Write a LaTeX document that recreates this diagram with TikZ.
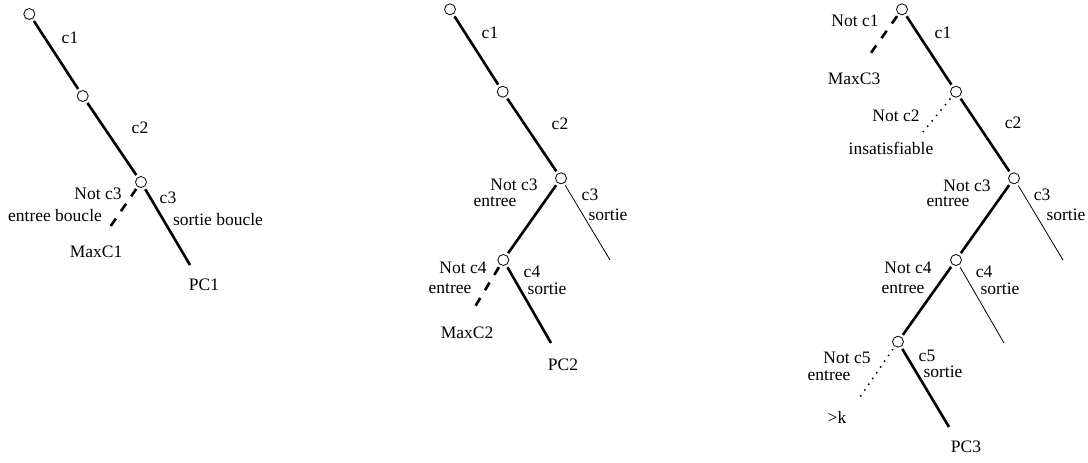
\documentclass[tikz,border=0pt]{standalone}
\usepackage{fontspec}
\setmainfont{Liberation Serif}
\begin{document}
\begin{tikzpicture}[x=1pt,y=-1pt,
  vtx/.style={circle,draw,line width=0.8pt,minimum size=11pt,inner sep=0pt,fill=white},
  lbl/.style={inner sep=0pt,font=\fontsize{17.5}{20}\selectfont},
  thickedge/.style={line width=2.6pt,shorten <=2.5pt,shorten >=2.5pt},
  thinedge/.style={line width=0.8pt,shorten <=2.5pt},
  dashedge/.style={line width=2.6pt,dash pattern=on 9pt off 9pt,shorten <=2.5pt},
  dotedge/.style={line width=1.5pt,dash pattern=on 1.5pt off 5.5pt,shorten <=3pt}]
\useasboundingbox (0,0) rectangle (1088,463);
% ---------- tree 1 ----------
\node[vtx] (a1) at (29.3,14) {};
\node[vtx] (a2) at (82.7,96) {};
\node[vtx] (a3) at (141,182) {};
\coordinate (a3r) at (190,265);
\coordinate (a3l) at (108,230);
\draw[thickedge] (a1) -- (a2);
\draw[thickedge] (a2) -- (a3);
\draw[thickedge,shorten >=0pt] (a3) -- (a3r);
\draw[dashedge] (a3) -- (a3l);
\node[lbl] (ta1) at (70,38) {c1};
\node[lbl] (ta2) at (140,128) {c2};
\node[lbl] (ta3) at (98,194) {Not c3};
\node[lbl] (ta4) at (168,198) {c3};
\node[lbl] (ta5) at (55,216) {entree boucle};
\node[lbl] (ta6) at (218,220) {sortie boucle};
\node[lbl] (ta7) at (96,252) {MaxC1};
\node[lbl] (ta8) at (204,285) {PC1};
% ---------- tree 2 ----------
\node[vtx] (b1) at (450,9.3) {};
\node[vtx] (b2) at (502.7,91.7) {};
\node[vtx] (b3) at (561,178.3) {};
\node[vtx] (b4) at (503.3,260) {};
\coordinate (b3r) at (610,260);
\coordinate (b4l) at (473,310);
\coordinate (b4r) at (551,343);
\draw[thickedge] (b1) -- (b2);
\draw[thickedge] (b2) -- (b3);
\draw[thickedge] (b3) -- (b4);
\draw[thinedge] (b3) -- (b3r);
\draw[dashedge] (b4) -- (b4l);
\draw[thickedge,shorten >=0pt] (b4) -- (b4r);
\node[lbl] (tb1) at (490,33) {c1};
\node[lbl] (tb2) at (560,124) {c2};
\node[lbl] (tb3) at (514,185) {Not c3};
\node[lbl] (tb4) at (495,202) {entree};
\node[lbl] (tb5) at (590,195) {c3};
\node[lbl] (tb6) at (608,215) {sortie};
\node[lbl] (tb7) at (463,267.5) {Not c4};
\node[lbl] (tb8) at (532,272) {c4};
\node[lbl] (tb9) at (450,288.5) {entree};
\node[lbl] (tb10) at (547,289) {sortie};
\node[lbl] (tb11) at (467,333) {MaxC2};
\node[lbl] (tb12) at (563,365) {PC2};
% ---------- tree 3 ----------
\node[vtx] (c1) at (902,9.3) {};
\node[vtx] (c2) at (956,91.7) {};
\node[vtx] (c3) at (1014,178.3) {};
\node[vtx] (c4) at (956,260) {};
\node[vtx] (c5) at (898,341.7) {};
\coordinate (c1l) at (868,57);
\coordinate (c2l) at (923,132);
\coordinate (c3r) at (1063,260);
\coordinate (c4r) at (1004,343);
\coordinate (c5l) at (860,397);
\coordinate (c5r) at (949,427);
\draw[dashedge] (c1) -- (c1l);
\draw[thickedge] (c1) -- (c2);
\draw[dotedge] (c2) -- (c2l);
\draw[thickedge] (c2) -- (c3);
\draw[thickedge] (c3) -- (c4);
\draw[thinedge] (c3) -- (c3r);
\draw[thickedge] (c4) -- (c5);
\draw[thinedge] (c4) -- (c4r);
\draw[dotedge] (c5) -- (c5l);
\draw[thickedge,shorten >=0pt] (c5) -- (c5r);
\node[lbl] (tc1) at (855,21) {Not c1};
\node[lbl] (tc2) at (943,33) {c1};
\node[lbl] (tc3) at (854,79) {MaxC3};
\node[lbl] (tc4) at (896,116) {Not c2};
\node[lbl] (tc5) at (891,148) {insatisfiable};
\node[lbl] (tc6) at (1013,123) {c2};
\node[lbl] (tc7) at (967,186) {Not c3};
\node[lbl] (tc8) at (948,202) {entree};
\node[lbl] (tc9) at (1042,195) {c3};
\node[lbl] (tc10) at (1066,215) {sortie};
\node[lbl] (tc11) at (908,267.5) {Not c4};
\node[lbl] (tc12) at (903,288.5) {entree};
\node[lbl] (tc13) at (984,272) {c4};
\node[lbl] (tc14) at (1000,289) {sortie};
\node[lbl] (tc15) at (847,357.5) {Not c5};
\node[lbl] (tc16) at (829,375.5) {entree};
\node[lbl] (tc17) at (927,355.5) {c5};
\node[lbl] (tc18) at (943,371.5) {sortie};
\node[lbl] (tc19) at (837,417) {>k};
\node[lbl] (tc20) at (966,447) {PC3};
\end{tikzpicture}
\end{document}
